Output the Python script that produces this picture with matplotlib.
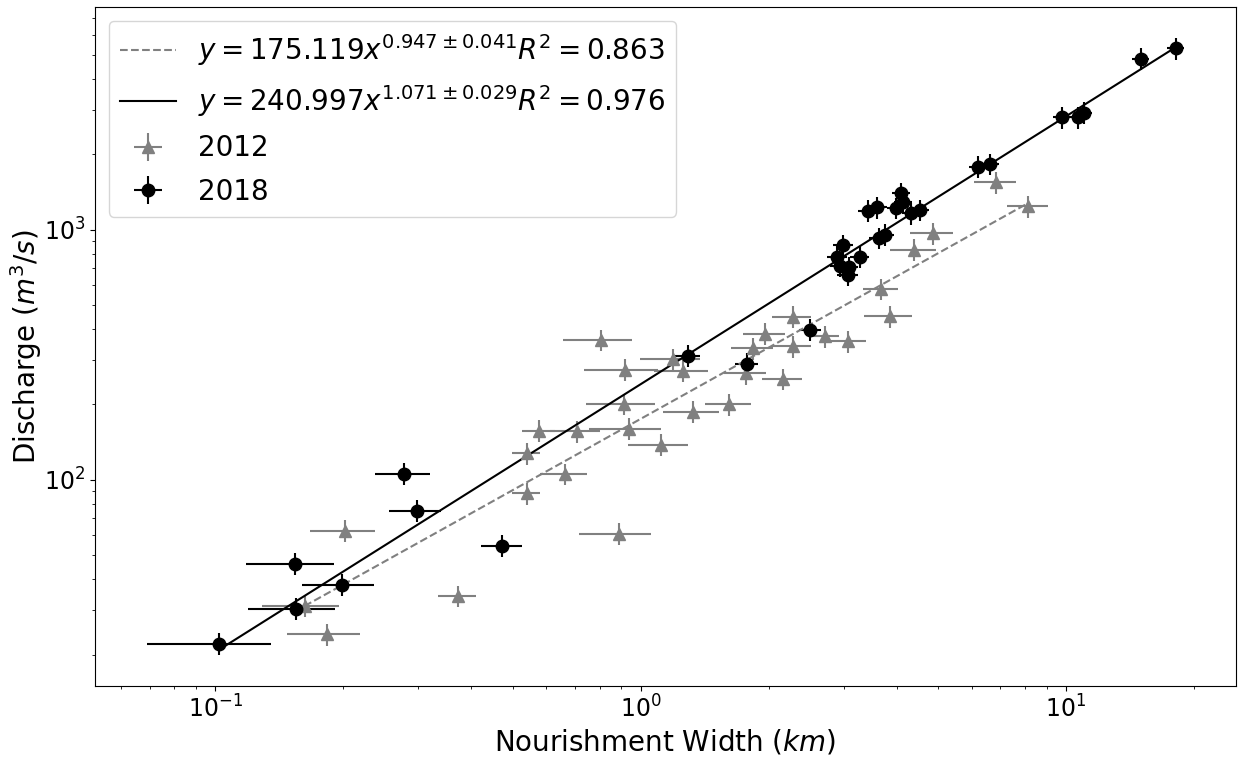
import numpy as np
import matplotlib
matplotlib.use("Agg")
import matplotlib.pyplot as plt

# ---- data ----
# 2012 survey
width_2012 = [0.162, 0.183, 0.202, 0.371, 0.539, 0.539, 0.578, 0.664, 0.707, 0.805,
              0.887, 0.913, 0.917, 0.937, 1.115, 1.188, 1.258, 1.328, 1.615, 1.766,
              1.84, 1.96, 2.16, 2.28, 2.28, 2.71, 3.07, 3.68, 3.85, 4.40,
              4.86, 6.84, 8.15]
discharge_2012 = [31.3, 24.1, 62.5, 34.3, 88.1, 127.4, 157, 105.4, 156, 362,
                  60.8, 201, 275, 160, 138, 304, 273, 187, 200, 266,
                  335, 383, 253, 449, 341, 374, 357, 579, 450, 832,
                  966, 1546, 1239]
width_err_2012 = [0.033, 0.036, 0.035, 0.038, 0.042, 0.042, 0.052, 0.085, 0.095, 0.15,
                  0.17, 0.17, 0.18, 0.18, 0.18, 0.19, 0.185, 0.2, 0.2, 0.2,
                  0.21, 0.22, 0.23, 0.24, 0.24, 0.22, 0.31, 0.35, 0.5, 0.55,
                  0.56, 0.77, 0.9]

# 2018 survey
width_2018 = [0.102, 0.154, 0.155, 0.198, 0.278, 0.298, 0.473, 1.29, 1.78, 2.50,
              2.90, 2.94, 2.99, 3.07, 3.08, 3.27, 3.42, 3.60, 3.63, 3.75,
              3.99, 4.10, 4.14, 4.33, 4.53, 6.2, 6.62, 9.79, 10.66, 11.0,
              14.97, 18.1]
discharge_2018 = [22.1, 46.1, 30.5, 38.0, 105.7, 75.2, 54.5, 313, 291, 398,
                  780, 718, 868, 661, 707, 780, 1191, 1228, 926, 955,
                  1221, 1397, 1285, 1161, 1199, 1786, 1828, 2812, 2812, 2930,
                  4818, 5310]
width_err_2018 = [0.033, 0.036, 0.036, 0.038, 0.041, 0.042, 0.052, 0.085, 0.11, 0.15,
                  0.16, 0.16, 0.16, 0.17, 0.17, 0.17, 0.18, 0.19, 0.19, 0.19,
                  0.2, 0.2, 0.21, 0.22, 0.22, 0.3, 0.32, 0.47, 0.5, 0.52,
                  0.7, 0.85]

discharge_rel_err = 0.10  # relative uncertainty of discharge

# power-law fits  y = a * x^b
fit_2012 = dict(a=175.119, b=0.947, berr=0.041, r2=0.863)
fit_2018 = dict(a=240.997, b=1.071, berr=0.029, r2=0.976)

# ---- plot ----
fig = plt.figure(figsize=(12.38, 7.58), dpi=100)
ax = fig.add_axes([95 / 1238, 1 - 686 / 758, (1236 - 95) / 1238, (686 - 7) / 758])

w12 = np.array(width_2012); q12 = np.array(discharge_2012)
w18 = np.array(width_2018); q18 = np.array(discharge_2018)

eb12 = ax.errorbar(w12, q12, xerr=width_err_2012, yerr=discharge_rel_err * q12,
                   fmt='^', color='gray', ms=8.5, elinewidth=1.5, label='2012')
eb18 = ax.errorbar(w18, q18, xerr=width_err_2018, yerr=discharge_rel_err * q18,
                   fmt='o', color='black', ms=9, elinewidth=1.5, label='2018')

xs12 = np.array([w12.min(), w12.max()])
xs18 = np.array([w18.min(), w18.max()])
lab12 = r'$y = %.3fx^{%.3f \pm %.3f} R^2 = %.3f$' % (fit_2012['a'], fit_2012['b'], fit_2012['berr'], fit_2012['r2'])
lab18 = r'$y = %.3fx^{%.3f \pm %.3f} R^2 = %.3f$' % (fit_2018['a'], fit_2018['b'], fit_2018['berr'], fit_2018['r2'])
l12, = ax.plot(xs12, fit_2012['a'] * xs12 ** fit_2012['b'], '--', color='gray', lw=1.5, label=lab12)
l18, = ax.plot(xs18, fit_2018['a'] * xs18 ** fit_2018['b'], '-', color='black', lw=1.5, label=lab18)

ax.set_xscale('log')
ax.set_yscale('log')
ax.set_xlabel(r'Nourishment Width ($km$)', fontsize=20, labelpad=3)
ax.set_ylabel(r'Discharge ($m^3/s$)', fontsize=20, labelpad=0)
ax.tick_params(axis='both', which='major', labelsize=17)

ax.legend([l12, l18, eb12, eb18], [lab12, lab18, '2012', '2018'],
          loc='upper left', fontsize=20, labelspacing=0.55)

fig.savefig('out.png', dpi=100)
